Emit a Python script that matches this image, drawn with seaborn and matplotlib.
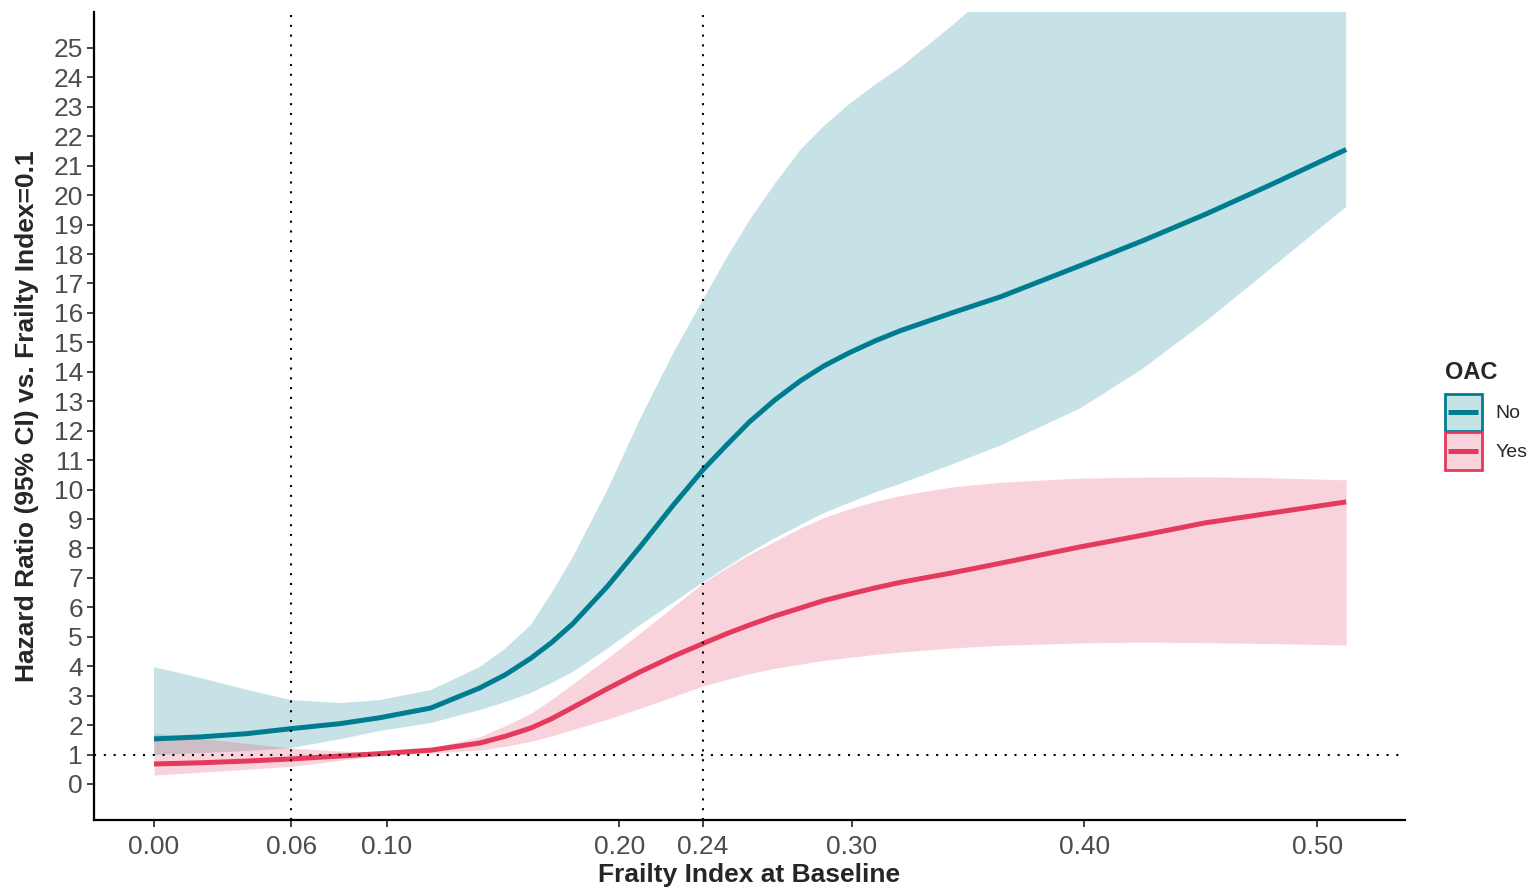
import numpy as np
import pandas as pd
import matplotlib
matplotlib.use("Agg")
import matplotlib.pyplot as plt
from matplotlib.patches import Rectangle
from matplotlib.lines import Line2D
from matplotlib.legend_handler import HandlerBase
from matplotlib.colors import to_rgba
import seaborn as sns

# ---- data ----
frailty = [0.0, 0.02, 0.04, 0.059, 0.08, 0.097, 0.119, 0.140, 0.151, 0.162, 0.171,
           0.180, 0.195, 0.209, 0.223, 0.236, 0.246, 0.256, 0.267, 0.278, 0.288,
           0.299, 0.310, 0.321, 0.343, 0.364, 0.398, 0.425, 0.452, 0.48, 0.5125]

hr_no = [1.53, 1.60, 1.71, 1.88, 2.05, 2.25, 2.58, 3.26, 3.71, 4.27, 4.81,
         5.44, 6.72, 8.06, 9.45, 10.67, 11.50, 12.30, 13.05, 13.70, 14.20,
         14.65, 15.05, 15.40, 16.00, 16.55, 17.60, 18.45, 19.35, 20.35, 21.55]
lo_no = [0.98, 1.05, 1.12, 1.22, 1.52, 1.80, 2.07, 2.51, 2.78, 3.09, 3.43,
         3.80, 4.60, 5.40, 6.15, 6.85, 7.35, 7.85, 8.35, 8.80, 9.20,
         9.55, 9.90, 10.20, 10.85, 11.50, 12.75, 14.10, 15.70, 17.50, 19.60]
hi_no = [3.97, 3.60, 3.20, 2.85, 2.75, 2.85, 3.19, 3.97, 4.60, 5.40, 6.50,
         7.70, 10.00, 12.40, 14.60, 16.45, 17.85, 19.15, 20.40, 21.55, 22.35,
         23.10, 23.75, 24.35, 25.75, 27.20, 29.00, 31.00, 33.00, 35.00, 37.00]

hr_yes = [0.68, 0.72, 0.78, 0.85, 0.95, 1.03, 1.15, 1.39, 1.62, 1.90, 2.22,
          2.60, 3.24, 3.81, 4.33, 4.77, 5.10, 5.40, 5.71, 5.98, 6.23,
          6.45, 6.66, 6.85, 7.17, 7.50, 8.05, 8.45, 8.87, 9.20, 9.58]
lo_yes = [0.30, 0.40, 0.50, 0.60, 0.80, 0.98, 1.05, 1.15, 1.28, 1.45, 1.63,
          1.85, 2.20, 2.57, 2.96, 3.33, 3.55, 3.75, 3.93, 4.07, 4.20,
          4.30, 4.40, 4.48, 4.62, 4.71, 4.79, 4.82, 4.80, 4.77, 4.72]
hi_yes = [1.73, 1.55, 1.38, 1.22, 1.12, 1.07, 1.22, 1.60, 1.98, 2.40, 2.88,
          3.40, 4.28, 5.13, 6.01, 6.83, 7.33, 7.80, 8.25, 8.70, 9.05,
          9.35, 9.60, 9.80, 10.09, 10.25, 10.39, 10.42, 10.43, 10.40, 10.33]

groups = ["No", "Yes"]
x_ticks = [0.0, 0.059, 0.10, 0.20, 0.236, 0.30, 0.40, 0.50]
x_ticklabels = ["0.00", "0.06", "0.10", "0.20", "0.24", "0.30", "0.40", "0.50"]
y_ticks = list(range(0, 26))
ref_lines_x = [0.059, 0.236]
ref_line_y = 1

colors = {"No": "#007C91", "Yes": "#E43A5B"}
FILL_ALPHA = 0.22

df = pd.concat([
    pd.DataFrame({"frailty": frailty, "hr": hr_no, "lo": lo_no, "hi": hi_no, "OAC": "No"}),
    pd.DataFrame({"frailty": frailty, "hr": hr_yes, "lo": lo_yes, "hi": hi_yes, "OAC": "Yes"}),
], ignore_index=True)

sns.set_style("ticks")
plt.rcParams["font.family"] = ["Liberation Sans", "DejaVu Sans"]

fig = plt.figure(figsize=(15.33, 8.89), dpi=100)
ax = fig.add_axes([94 / 1533, 69 / 889, (1405 - 94) / 1533, (877 - 69) / 889])

for g in groups:
    sub = df[df["OAC"] == g]
    ax.fill_between(sub["frailty"], sub["lo"], sub["hi"], color=colors[g],
                    alpha=FILL_ALPHA, linewidth=0, zorder=1)

sns.lineplot(data=df, x="frailty", y="hr", hue="OAC", palette=colors,
             linewidth=3.6, ax=ax, legend=False, zorder=3, sort=True)
for l in ax.lines:
    l.set_solid_joinstyle("round")
    l.set_solid_capstyle("butt")

dot = (0, (1, 3.7))
for xv in ref_lines_x:
    ax.axvline(xv, color="black", linestyle=dot, linewidth=1.5, zorder=4)
ax.axhline(ref_line_y, color="black", linestyle=dot, linewidth=1.5, zorder=4)

ax.set_xlim(-0.0258, 0.5378)
ax.set_ylim(-1.223, 26.22)
ax.set_xticks(x_ticks)
ax.set_xticklabels(x_ticklabels)
ax.set_yticks(y_ticks)
ax.set_yticklabels([str(v) for v in y_ticks])

ax.tick_params(axis="both", labelsize=19, labelcolor="#4D4D4D", color="#333333",
               length=5, width=1.3)
ax.tick_params(axis="x", pad=6)
ax.tick_params(axis="y", pad=3)

for s in ["top", "right"]:
    ax.spines[s].set_visible(False)
for s in ["left", "bottom"]:
    ax.spines[s].set_linewidth(1.6)
    ax.spines[s].set_color("black")

ax.set_xlabel("Frailty Index at Baseline", fontsize=19, fontweight="bold", labelpad=3)
ax.set_ylabel("Hazard Ratio (95% CI) vs. Frailty Index=0.1", fontsize=19,
              fontweight="bold", labelpad=10)


class BoxLineHandler(HandlerBase):
    def create_artists(self, legend, orig_handle, xdescent, ydescent, width, height,
                       fontsize, trans):
        c = orig_handle.get_color()
        x0, y0 = -xdescent, -ydescent
        rect = Rectangle((x0, y0), width, height, facecolor=to_rgba(c, FILL_ALPHA),
                         edgecolor=c, linewidth=2, transform=trans)
        ym = y0 + height / 2
        line = Line2D([x0 + 2.5, x0 + width - 2.5], [ym, ym], color=c, linewidth=3.6,
                      solid_capstyle="butt", transform=trans)
        return [rect, line]


handles = [Line2D([0], [0], color=colors[g]) for g in groups]
leg = fig.legend(handles, groups, title="OAC", loc="upper left",
                 bbox_to_anchor=(1445 / 1533, 1 - 361 / 889), frameon=False,
                 fontsize=14, title_fontproperties={"weight": "bold", "size": 17},
                 handlelength=1.9, handleheight=2.56, labelspacing=0.08,
                 handletextpad=0.7, borderpad=0, borderaxespad=0, alignment="left",
                 handler_map={Line2D: BoxLineHandler()})
leg._legend_box.sep = 7

fig.savefig("out.png", dpi=100)
